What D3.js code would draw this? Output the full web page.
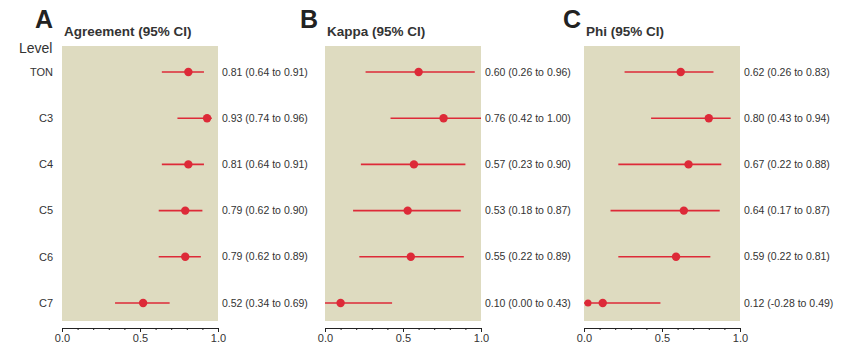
<!DOCTYPE html>
<html>
<head>
<meta charset="utf-8">
<script src="https://cdn.jsdelivr.net/npm/d3@7"></script>
<style>
  body { margin: 0; background: #fff; }
  svg { display: block; font-family: "Liberation Sans", Arial, sans-serif; }
</style>
</head>
<body>
<div class="chart-container"></div>
<script>
// levels (rows, top to bottom)
const levels = ['TON', 'C3', 'C4', 'C5', 'C6', 'C7'];

// Agreement
const agreeEst = [0.81, 0.93, 0.81, 0.79, 0.79, 0.52];
const agreeLow = [0.64, 0.74, 0.64, 0.62, 0.62, 0.34];
const agreeHigh = [0.91, 0.96, 0.91, 0.90, 0.89, 0.69];

// Kappa
const kappaEst = [0.60, 0.76, 0.57, 0.53, 0.55, 0.10];
const kappaLow = [0.26, 0.42, 0.23, 0.18, 0.22, 0.00];
const kappaHigh = [0.96, 1.00, 0.90, 0.87, 0.89, 0.43];

// Phi
const phiEst = [0.62, 0.80, 0.67, 0.64, 0.59, 0.12];
const phiLow = [0.26, 0.43, 0.22, 0.17, 0.22, -0.28];
const phiHigh = [0.83, 0.94, 0.88, 0.87, 0.81, 0.49];

const panelLetters = ['A', 'B', 'C'];
const panelTitles = ['Agreement (95% CI)', 'Kappa (95% CI)', 'Phi (95% CI)'];
const xTicks = [0, 0.5, 1.0];

const width = 854;
const height = 347;
const panelLeft = [62, 325, 584];
const panelWidth = 156;
const letterLeft = [35, 300, 563];
const bgColor = '#dedbc0';
const redColor = '#dd2a38';
const textColor = '#333';

const series = [
    { est: agreeEst, low: agreeLow, high: agreeHigh },
    { est: kappaEst, low: kappaLow, high: kappaHigh },
    { est: phiEst, low: phiLow, high: phiHigh }
];

const svg = d3.select('.chart-container')
    .append('svg')
    .attr('width', width)
    .attr('height', height);

const y = d3.scalePoint()
    .domain(levels)
    .range([72, 303]);

const plotTop = 46;
const plotBottom = 321;
const axisY = 328;

const fmt = v => v.toFixed(2);

series.forEach((s, p) => {
    const x = d3.scaleLinear()
        .domain([0, 1])
        .range([panelLeft[p], panelLeft[p] + panelWidth]);

    const g = svg.append('g');

    // background
    g.append('rect')
        .attr('x', x(0))
        .attr('y', plotTop)
        .attr('width', x(1) - x(0))
        .attr('height', plotBottom - plotTop)
        .style('fill', bgColor);

    // panel letter + title
    g.append('text')
        .attr('x', letterLeft[p])
        .attr('y', 28)
        .style('font-size', '25px')
        .style('font-weight', 'bold')
        .style('fill', '#222')
        .text(panelLetters[p]);

    g.append('text')
        .attr('x', x(0) + 2)
        .attr('y', 36)
        .style('font-size', '13.5px')
        .style('font-weight', 'bold')
        .style('fill', textColor)
        .text(panelTitles[p]);

    const rows = levels.map((lv, i) => ({
        level: lv, est: s.est[i], low: s.low[i], high: s.high[i]
    }));

    // CI lines (clipped to domain)
    g.selectAll('.ci')
        .data(rows)
        .enter().append('line')
        .attr('x1', d => x(Math.max(0, d.low)))
        .attr('x2', d => x(Math.min(1, d.high)))
        .attr('y1', d => y(d.level))
        .attr('y2', d => y(d.level))
        .style('stroke', redColor)
        .style('stroke-width', 1.6);

    // clipped-bound marker
    g.selectAll('.clip')
        .data(rows.filter(d => d.low < 0))
        .enter().append('circle')
        .attr('cx', d => x(0) + 4)
        .attr('cy', d => y(d.level))
        .attr('r', 3.5)
        .style('fill', redColor);

    // estimates
    g.selectAll('.pt')
        .data(rows)
        .enter().append('circle')
        .attr('cx', d => x(d.est))
        .attr('cy', d => y(d.level))
        .attr('r', 4.2)
        .style('fill', redColor);

    // value labels
    g.selectAll('.lbl')
        .data(rows)
        .enter().append('text')
        .attr('x', x(1) + 4)
        .attr('y', d => y(d.level))
        .attr('dy', '0.35em')
        .style('font-size', '10.5px')
        .style('fill', textColor)
        .text(d => `${fmt(d.est)} (${fmt(d.low)} to ${fmt(d.high)})`);

    // x axis, minor ticks
    const axis = g.append('g')
        .attr('transform', `translate(0,${axisY})`)
        .call(d3.axisBottom(x)
            .tickValues(d3.range(0, 1.0001, 0.1))
            .tickSize(2)
            .tickFormat(''));
    axis.select('.domain').attr('stroke', '#222');
    axis.selectAll('.tick line').attr('stroke', '#222');

    // major ticks with labels
    const major = g.append('g')
        .attr('transform', `translate(0,${axisY})`)
        .call(d3.axisBottom(x)
            .tickValues(xTicks)
            .tickSize(4)
            .tickPadding(2)
            .tickFormat(d3.format('.1f')));
    major.select('.domain').remove();
    major.selectAll('.tick line').attr('stroke', '#222');
    major.selectAll('.tick text')
        .style('font-size', '11px')
        .style('font-family', '"Liberation Sans", Arial, sans-serif')
        .style('fill', textColor);
});

// row labels (left of panel A)
svg.append('text')
    .attr('x', 19)
    .attr('y', 53)
    .style('font-size', '14px')
    .style('fill', textColor)
    .text('Level');

svg.selectAll('.row')
    .data(levels)
    .enter().append('text')
    .attr('x', 53)
    .attr('y', d => y(d))
    .attr('dy', '0.35em')
    .attr('text-anchor', 'end')
    .style('font-size', '11px')
    .style('fill', textColor)
    .text(d => d);
</script>
</body>
</html>
